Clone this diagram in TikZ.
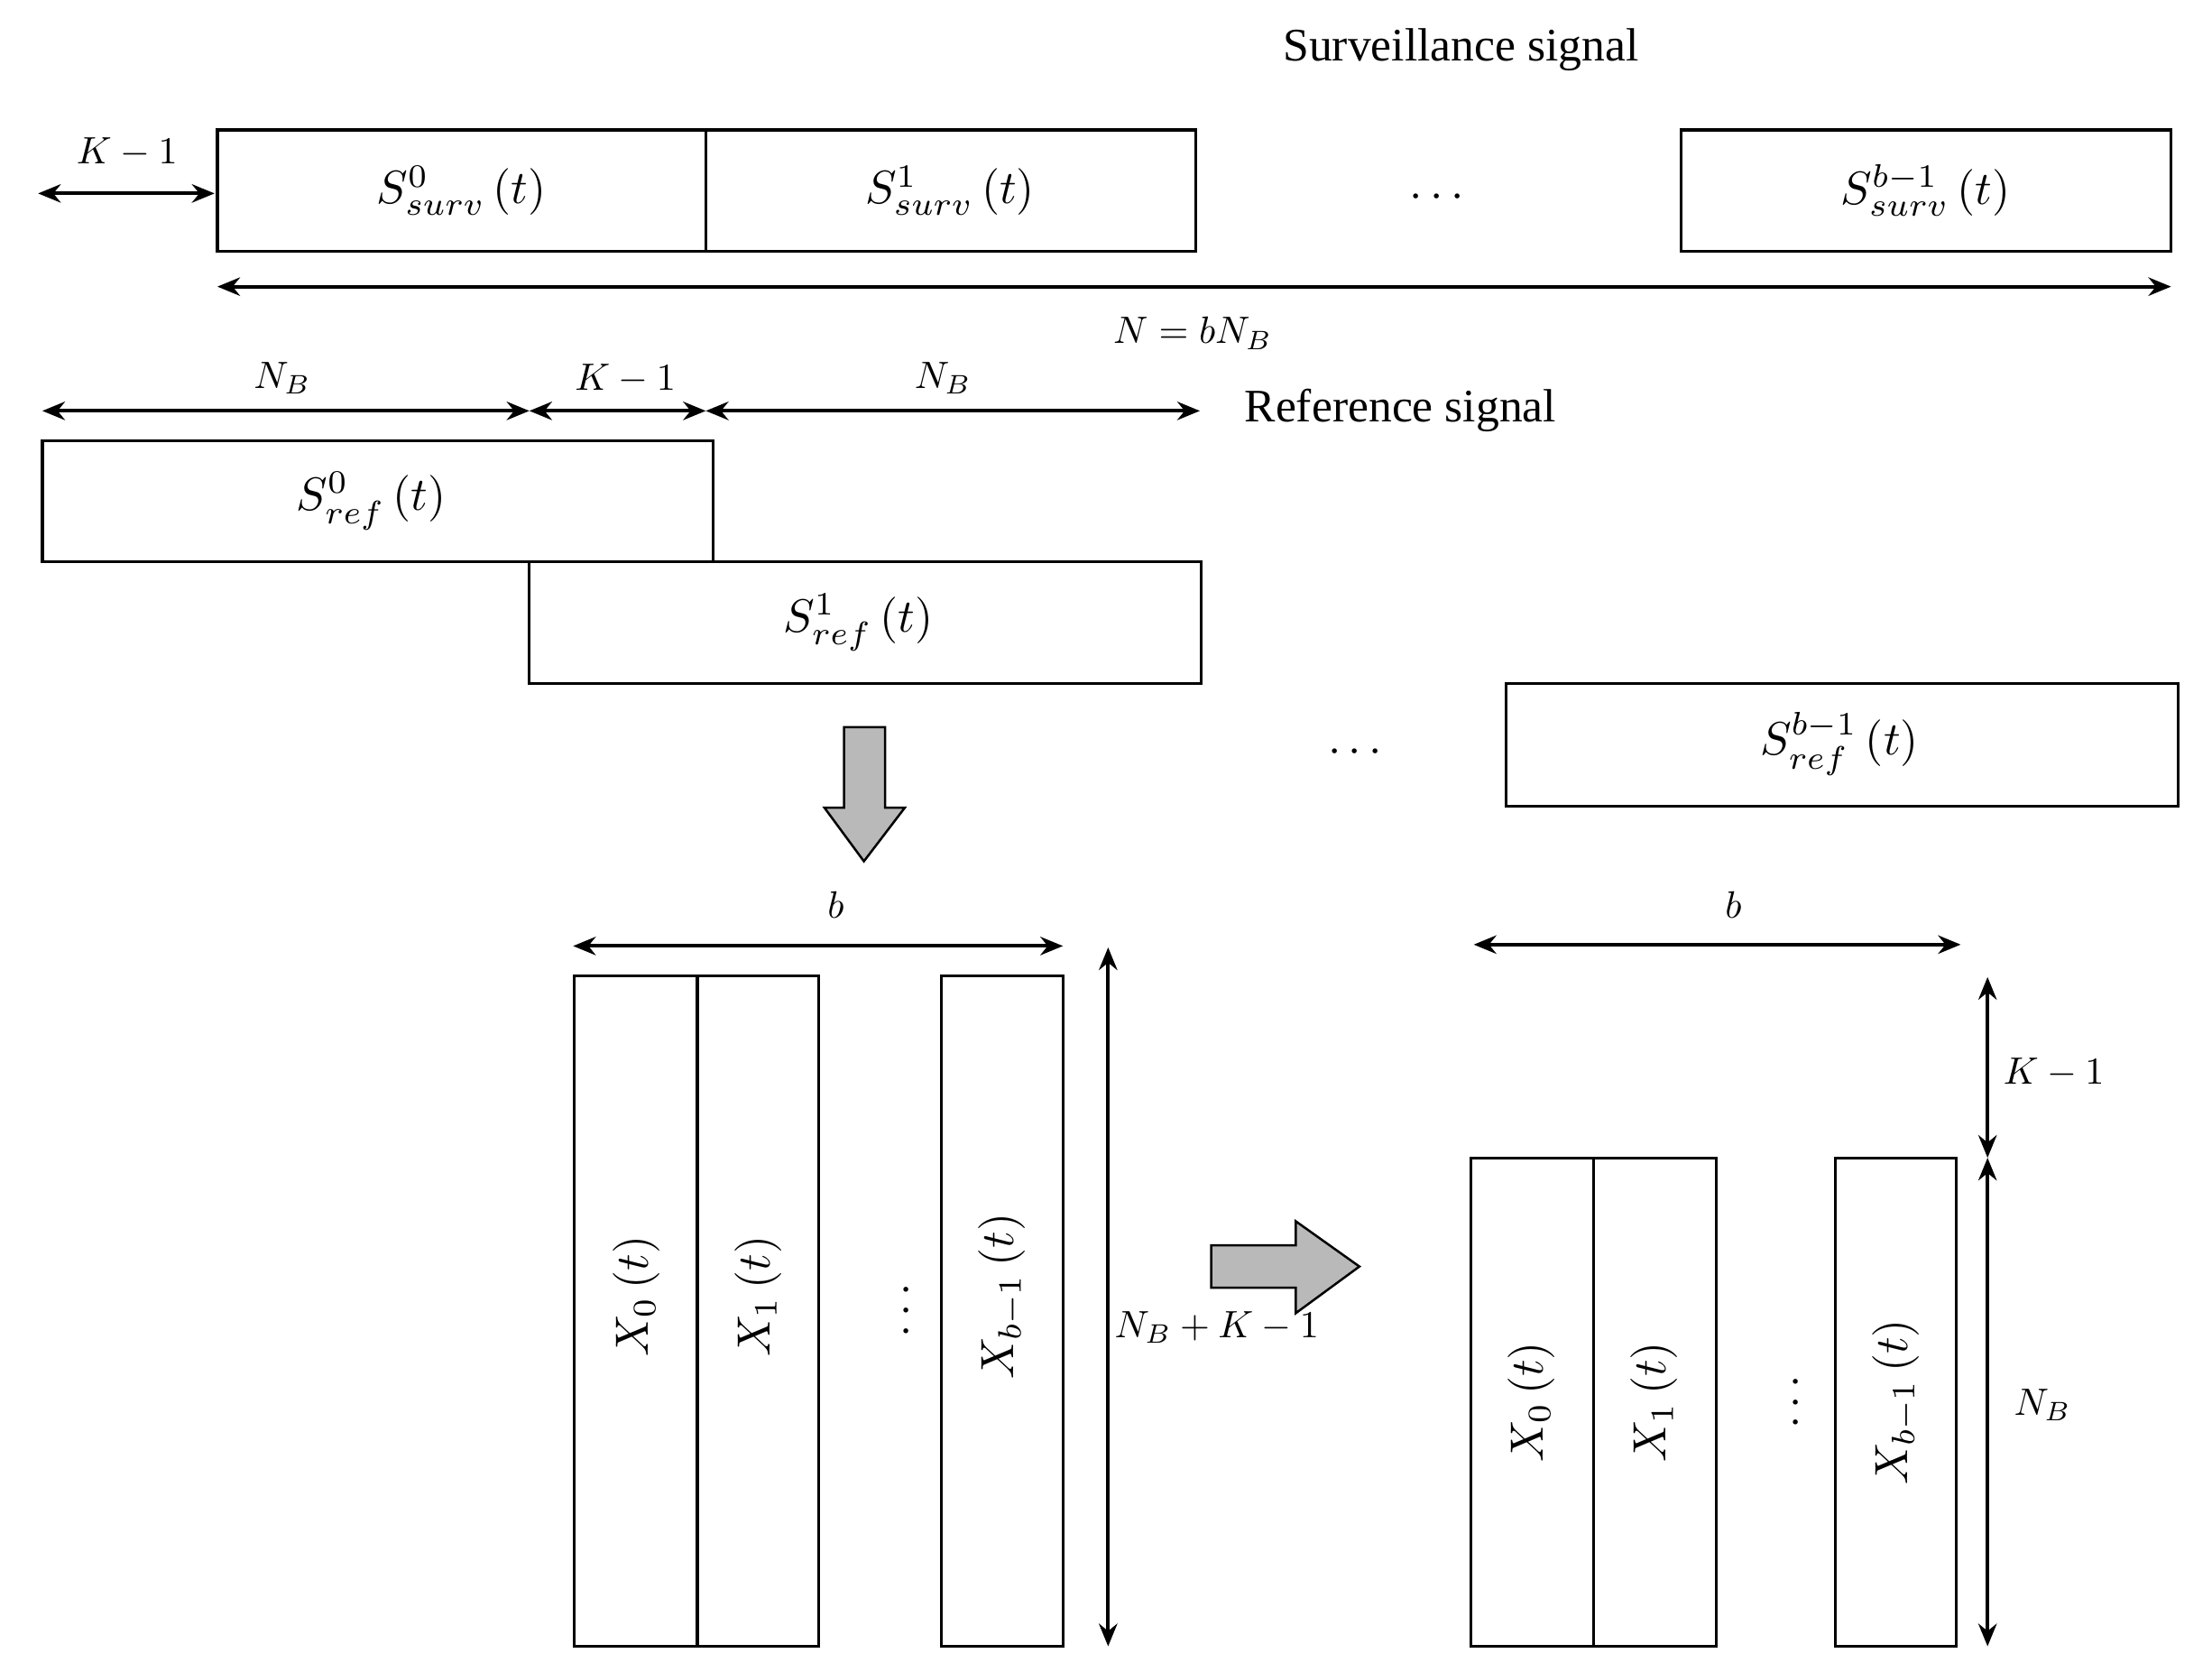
\documentclass[tikz,border=0pt]{standalone}
\usepackage{fontspec}
\setmainfont{Liberation Serif}
\usetikzlibrary{arrows.meta}
\begin{document}
\begin{tikzpicture}[x=1pt,y=-1pt,
  box/.style={draw,line width=2pt},
  dim/.style={line width=2.6pt,{Stealth[length=16pt,width=13pt]}-{Stealth[length=16pt,width=13pt]}},
  big/.style={scale=3.3},
  lab/.style={scale=2.7},
  gray/.style={draw,line width=1.6pt,fill=gray!55}]
\useasboundingbox (0,0) rectangle (1567,1184);
\node[big] (st) at (1035,35) {Surveillance signal};
% surveillance
\draw[box] (154,92) rectangle (500,178); \draw[box] (500,92) rectangle (847,178);
\draw[box] (1191,92) rectangle (1538,178);
\node[big] (s0) at (327,135) {$S^{0}_{surv}\left(t\right)$};
\node[big] (s1) at (673,135) {$S^{1}_{surv}\left(t\right)$};
\node[big] (sb) at (1364,135) {$S^{b-1}_{surv}\left(t\right)$};
\node[big] (d1) at (1018,140) {$\cdots$};
\coordinate (a1) at (27,137); \coordinate (a2) at (152,137);
\draw[dim] (a1) -- (a2); \node[lab] (k1) at (90,108) {$K-1$};
\coordinate (n1) at (154,203); \coordinate (n2) at (1538,203);
\draw[dim] (n1) -- (n2); \node[lab] (nl) at (845,236) {$N=bN_B$};
% reference
\coordinate (r1) at (30,291); \coordinate (r2) at (375,291); \coordinate (r3) at (500,291); \coordinate (r4) at (850,291);
\draw[dim] (r1) -- (r2); \draw[dim] (r2) -- (r3); \draw[dim] (r3) -- (r4);
\node[lab] at (200,268) {$N_B$}; \node[lab] at (443,268) {$K-1$}; \node[lab] at (668,268) {$N_B$};
\node[big,anchor=west] (rs) at (870,291) {Reference signal};
\draw[box] (30,312) rectangle (505,398);
\draw[box] (375,398) rectangle (851,484);
\draw[box] (1067,484) rectangle (1543,571);
\node[big] at (263,355) {$S^{0}_{ref}\left(t\right)$};
\node[big] at (608,441) {$S^{1}_{ref}\left(t\right)$};
\node[big] at (1303,527) {$S^{b-1}_{ref}\left(t\right)$};
\node[big] at (960,533) {$\cdots$};
% down arrow
\draw[gray] (598,515) -- (627,515) -- (627,572) -- (641,572) -- (612,610) -- (584,572) -- (598,572) -- cycle;
% left matrix
\draw[dim] (406,670) -- (753,670); \node[lab] at (592,641) {$b$};
\draw[box] (407,691) rectangle (494,1166); \draw[box] (494,691) rectangle (580,1166);
\draw[box] (667,691) rectangle (753,1166);
\node[big,rotate=90] at (451,918) {$X_0\left(t\right)$};
\node[big,rotate=90] at (537,918) {$X_1\left(t\right)$};
\node[big,rotate=90] at (710,918) {$X_{b-1}\left(t\right)$};
\node[big,rotate=90] at (643,928) {$\cdots$};
\draw[dim] (785,671) -- (785,1166); \node[lab] at (862,940) {$N_B+K-1$};
% right arrow
\draw[gray] (858,882) -- (918,882) -- (918,865) -- (963,897) -- (918,930) -- (918,912) -- (858,912) -- cycle;
% right matrix
\draw[dim] (1044,669) -- (1389,669); \node[lab] at (1228,641) {$b$};
\draw[box] (1042,820) rectangle (1129,1166); \draw[box] (1129,820) rectangle (1216,1166);
\draw[box] (1300,820) rectangle (1386,1166);
\node[big,rotate=90] at (1085,993) {$X_0\left(t\right)$};
\node[big,rotate=90] at (1172,993) {$X_1\left(t\right)$};
\node[big,rotate=90] at (1343,993) {$X_{b-1}\left(t\right)$};
\node[big,rotate=90] at (1273,993) {$\cdots$};
\draw[dim] (1408,692) -- (1408,820); \node[lab] at (1455,760) {$K-1$};
\draw[dim] (1408,820) -- (1408,1166); \node[lab] at (1447,995) {$N_B$};
\end{tikzpicture}
\end{document}
